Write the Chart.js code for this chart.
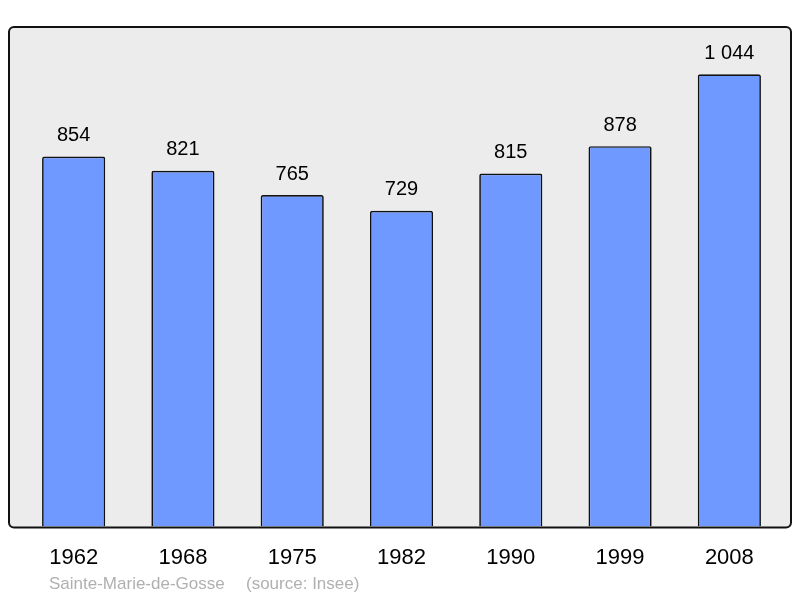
<!DOCTYPE html>
<html>
<head>
<meta charset="utf-8">
<script src="https://cdn.jsdelivr.net/npm/chart.js@4.4.0/dist/chart.umd.min.js"></script>
<style>
  html, body { margin:0; padding:0; background:#fff; }
  #wrap { width:800px; height:598px; }
</style>
</head>
<body>
<div id="wrap"><canvas id="popChart" width="800" height="598"></canvas></div>
<script>
// Population data
const years = ['1962','1968','1975','1982','1990','1999','2008'];
const population = [854, 821, 765, 729, 815, 878, 1044];
const townName = 'Sainte-Marie-de-Gosse';
const sourceText = '(source: Insee)';

const fontFam = '"Liberation Sans", Arial, sans-serif';

function fmt(n){
    return String(n).replace(/\B(?=(\d{3})+(?!\d))/g, ' ');
}

// grey rounded box behind the bars
const frameBox = {
    id:'frameBox',
    beforeDatasetsDraw(chart){
        const ctx = chart.ctx, a = chart.chartArea;
        const x = a.left - 10, y = a.top, w = a.right - a.left + 17, h = a.bottom - a.top + 1;
        ctx.save();
        ctx.beginPath();
        ctx.roundRect(x, y, w, h, 5);
        ctx.fillStyle = '#ececec';
        ctx.fill();
        ctx.restore();
    },
    afterDatasetsDraw(chart){
        const ctx = chart.ctx, a = chart.chartArea;
        const x = a.left - 10, y = a.top, w = a.right - a.left + 17, h = a.bottom - a.top + 1;
        ctx.save();
        ctx.beginPath();
        ctx.roundRect(x, y, w, h, 5);
        ctx.lineWidth = 2;
        ctx.strokeStyle = '#111';
        ctx.stroke();
        // value labels
        ctx.font = '20px ' + fontFam;
        ctx.fillStyle = '#000';
        ctx.textAlign = 'center';
        ctx.textBaseline = 'middle';
        chart.getDatasetMeta(0).data.forEach((bar,i)=>{
            ctx.fillText(fmt(population[i]), bar.x, bar.y - 21);
        });
        // footer
        ctx.font = '17px ' + fontFam;
        ctx.fillStyle = '#b0b0b0';
        ctx.textAlign = 'left';
        ctx.fillText(townName, 49, 584);
        ctx.fillText(sourceText, 246, 584);
        ctx.restore();
    }
};

new Chart(document.getElementById('popChart'), {
    type:'bar',
    data:{
        labels: years,
        datasets:[{
            data: population,
            backgroundColor:'#7099ff',
            borderColor:'#111',
            borderWidth:1.7,
            borderRadius:2,
            borderSkipped:'bottom',
            categoryPercentage:1,
            barPercentage:0.578
        }]
    },
    options:{
        responsive:false,
        animation:false,
        layout:{ padding:{ left:19, right:16, top:27, bottom:17 } },
        plugins:{ legend:{display:false}, tooltip:{enabled:false} },
        scales:{
            x:{
                grid:{display:false},
                border:{display:false},
                ticks:{ color:'#000', padding:10, font:{ size:22, family:fontFam } }
            },
            y:{
                display:false,
                min:0,
                max:1153
            }
        }
    },
    plugins:[frameBox]
});
</script>
</body>
</html>
